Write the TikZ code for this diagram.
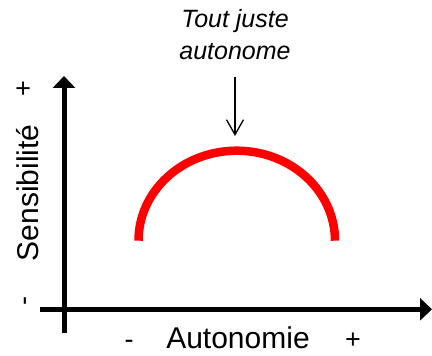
\documentclass[tikz,border=0pt]{standalone}
\usepackage{fontspec}
\setmainfont{Liberation Sans}
\usetikzlibrary{arrows.meta, positioning}
\tikzset{
  %% Axis with filled head
  axis/.style={line width=5pt, -{Triangle[length=12pt,width=22pt]}},
  %% Axis name
  axlabel/.style={font=\fontsize{30}{35}\selectfont, inner sep=0pt},
  %% Sign at the ends of an axis
  sign/.style={font=\fontsize{27}{32}\selectfont, inner sep=0pt},
  %% Red curve
  curve/.style={draw=red, line width=8.5pt},
  %% Thin pointer
  pointer/.style={-{Straight Barb[length=15pt,width=17pt]}, line width=1.3pt},
  %% Italic callout
  callout/.style={font=\fontsize{25}{31.6}\selectfont\itshape,
                  align=center, inner sep=0pt},
}
\begin{document}
\begin{tikzpicture}[x=1pt, y=1pt]

  \useasboundingbox (0,0) rectangle (432,356);

  \coordinate (xstart) at (40,46.7);
  \coordinate (xend)   at (432,46.7);
  \coordinate (ystart) at (64,23);
  \coordinate (yend)   at (64,280);

  \draw[axis] (xstart) -- (xend);
  \draw[axis] (ystart) -- (yend);

  \draw[curve] (138.5,115.3) arc[start angle=180, end angle=0,
                                 x radius=98.25, y radius=90];
  \coordinate (peak) at (236.75,205.3);

  \node[callout] (note) at (235,321.5) {Tout juste\\autonome};
  \draw[pointer, shorten <=17.7pt, shorten >=14.7pt]
       (note.south) -- (note.south |- peak);

  \node[axlabel, anchor=base] (xlabel) at (238,7) {Autonomie};
  \node[sign, anchor=base] (xminus) at (129,7) {-};
  \node[sign, anchor=base] (xplus) at (353,7) {+};

  \node[axlabel, rotate=90, anchor=base] (ylabel) at (38.3,163)
       {Sensibilité};
  \node[sign, rotate=90, anchor=base] (yminus) at (32.6,54.7) {-};
  \node[sign, rotate=90, anchor=base] (yplus) at (32,267) {+};

\end{tikzpicture}
\end{document}
